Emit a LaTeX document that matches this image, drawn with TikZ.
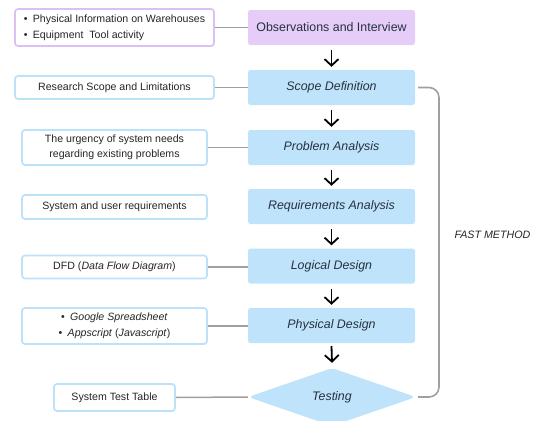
\documentclass[tikz,border=0pt]{standalone}
\usepackage{fontspec}
\setmainfont{Liberation Sans}
\usetikzlibrary{shapes.geometric,arrows.meta}
\definecolor{mainblue}{HTML}{BEE3FA}
\definecolor{mainpurple}{HTML}{E5CDF8}
\definecolor{edgepurple}{HTML}{DCC0F5}
\definecolor{edgeblue}{HTML}{BDE1F8}
\definecolor{maintext}{HTML}{26313F}
\definecolor{sidetext}{HTML}{262626}
\definecolor{linkgray}{HTML}{A0A0A0}
\tikzset{
  mainbox/.style={fill=mainblue, draw=none, rounded corners=2.5pt, minimum width=167pt, minimum height=35pt, inner sep=0pt, text=maintext, font=\fontsize{12.4}{14}\selectfont\itshape},
  sidebox/.style={fill=white, draw=edgeblue, line width=1.7pt, rounded corners=3pt, inner sep=0pt, text=sidetext, font=\fontsize{10.6}{15}\selectfont, align=center},
  link/.style={draw=linkgray, line width=1.5pt},
  flow/.style={draw=black, line width=1.8pt, -{Straight Barb[length=6.5pt,width=14pt,line width=1.8pt]}}
}
\begin{document}
\begin{tikzpicture}[x=1pt,y=-1pt]
\useasboundingbox (0,0) rectangle (542,421);
\clip (0,0) rectangle (542,421);
% main column
\node[mainbox, fill=mainpurple, font=\fontsize{12.4}{14}\selectfont] (obs) at (331.5,27.5) {Observations and Interview};
\node[mainbox] (scope) at (331.5,87.5) {Scope Definition};
\node[mainbox] (prob) at (331.5,147.5) {Problem Analysis};
\node[mainbox] (req) at (331.5,206.5) {Requirements Analysis};
\node[mainbox] (logd) at (331.5,266) {Logical Design};
\node[mainbox] (phys) at (331.5,325.5) {Physical Design};
\node[diamond, fill=mainblue, minimum width=168pt, minimum height=58pt, inner sep=0pt, aspect=2.9, rounded corners=5pt, text=maintext, font=\fontsize{12.4}{14}\selectfont\itshape] (test) at (332,397) {Testing};
% arrows
\draw[flow] ([yshift=-5pt]obs.south) -- ([yshift=3pt]scope.north);
\draw[flow] ([yshift=-5pt]scope.south) -- ([yshift=3pt]prob.north);
\draw[flow] ([yshift=-5pt]prob.south) -- ([yshift=3pt]req.north);
\draw[flow] ([yshift=-5pt]req.south) -- ([yshift=3pt]logd.north);
\draw[flow] ([yshift=-5pt]logd.south) -- ([yshift=3pt]phys.north);
\draw[flow] ([yshift=-3pt]phys.south) -- ([yshift=5pt]test.north);
% side boxes
\node[sidebox, draw=edgepurple, minimum width=199pt, minimum height=37pt, align=left, font=\fontsize{10.6}{16}\selectfont] (l1) at (114.5,27.5) {\textbullet\enspace Physical Information on Warehouses\\\textbullet\enspace Equipment\ \ Tool activity};
\node[sidebox, minimum width=199pt, minimum height=23pt] (l2) at (114.5,87.5) {Research Scope and Limitations};
\node[sidebox, minimum width=185pt, minimum height=35pt] (l3) at (114.5,147.5) {The urgency of system needs\\regarding existing problems};
\node[sidebox, minimum width=185pt, minimum height=24pt] (l4) at (114.5,207) {System and user requirements};
\node[sidebox, minimum width=185pt, minimum height=23pt] (l5) at (114.5,267) {DFD (\textit{Data Flow Diagram})};
\node[sidebox, minimum width=185pt, minimum height=36pt, font=\fontsize{10.6}{16}\selectfont] (l6) at (114.5,326) {\textbullet\enspace\textit{Google Spreadsheet}\\\textbullet\enspace\textit{Appscript} (\textit{Javascript})};
\node[sidebox, minimum width=121pt, minimum height=27pt] (l7) at (114.5,397.5) {System Test Table};
% links
\draw[link] (l1.east) -- (l1.east -| obs.west);
\draw[link] (l2.east) -- (l2.east -| scope.west);
\draw[link] (l3.east) -- (l3.east -| prob.west);
\draw[link] (l5.east) -- (l5.east -| logd.west);
\draw[link] (l6.east) -- (l6.east -| phys.west);
\draw[link] (l7.east) -- (test.west);
% bracket
\coordinate (bk) at (439,0);
\draw[link, line width=1.6pt, rounded corners=10pt] ([xshift=3pt]scope.east) -- (scope.east -| bk) -- (test.east -| bk) -- ([xshift=2pt]test.east);
\node[text=sidetext, font=\fontsize{10.7}{12}\selectfont\itshape] (fast) at (492.5,235) {FAST METHOD};
\end{tikzpicture}
\end{document}
